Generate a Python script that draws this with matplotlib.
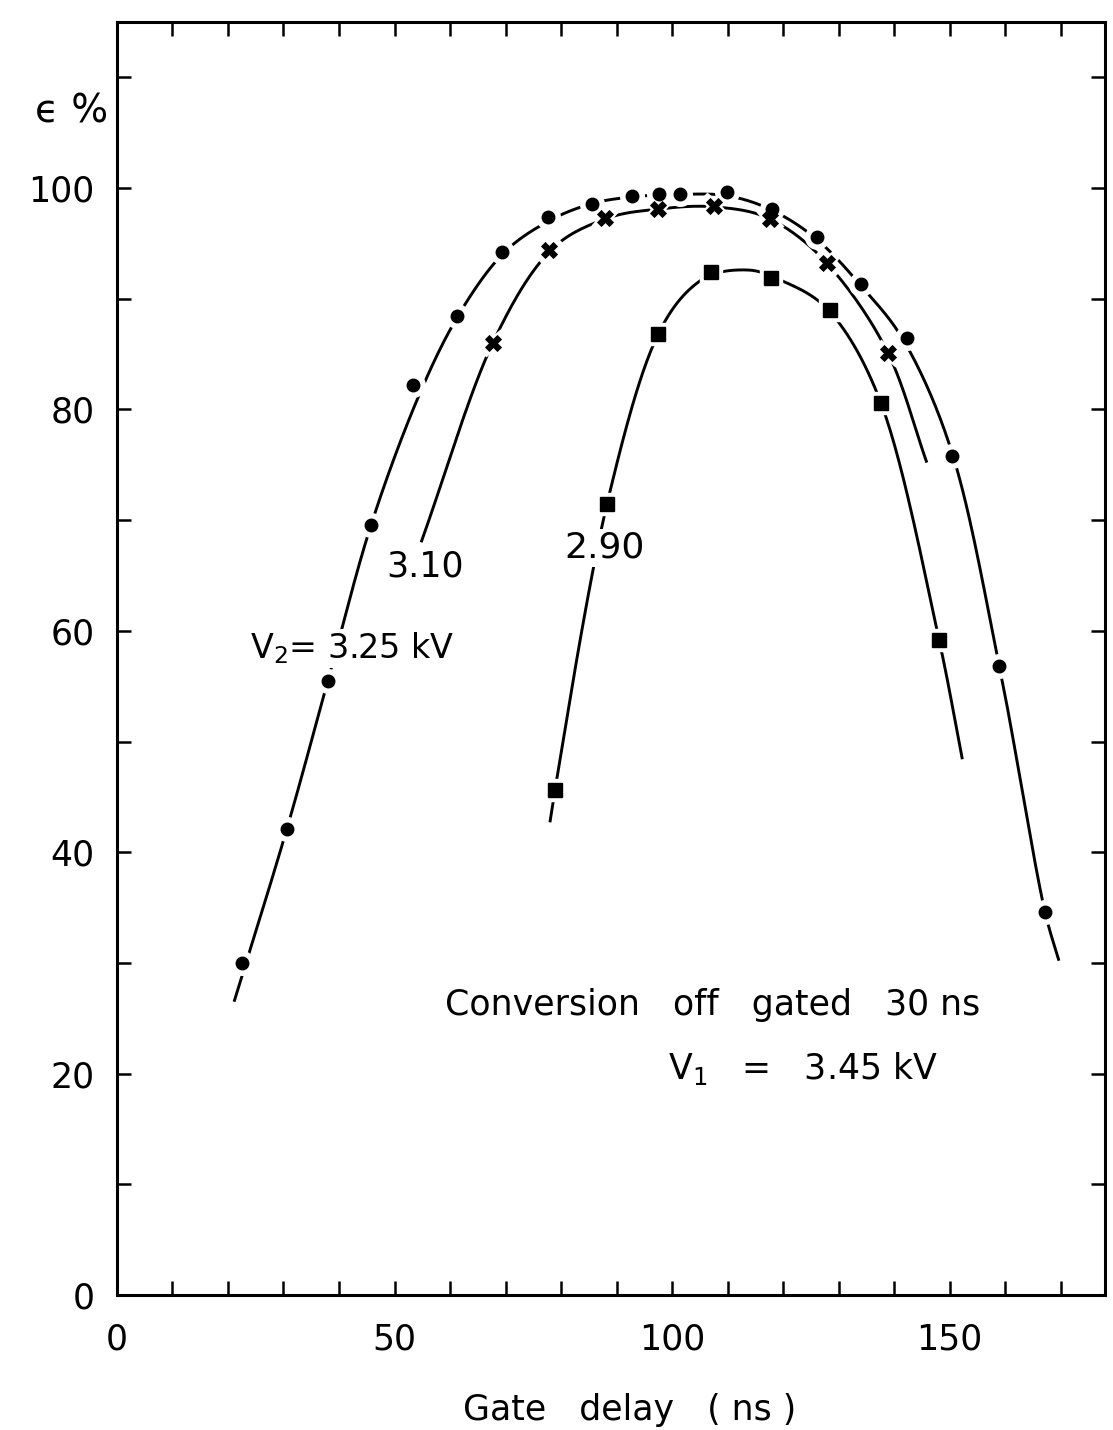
import numpy as np
import matplotlib
matplotlib.use("Agg")
import matplotlib.pyplot as plt

# Measured efficiency (%) versus gate delay (ns) for three V2 settings
delay_325 = [22.5, 30.6, 38.0, 45.8, 53.3, 61.3, 69.4, 77.7, 85.6, 92.8,
             97.7, 101.4, 109.9, 118.0, 126.1, 134.1, 142.3, 150.5, 158.9, 167.2]
eff_325 = [30.0, 42.1, 55.5, 69.6, 82.2, 88.4, 94.2, 97.4, 98.6, 99.3,
           99.5, 99.5, 99.6, 98.1, 95.6, 91.3, 86.5, 75.8, 56.8, 34.6]

delay_310 = [67.7, 77.8, 87.9, 97.5, 107.6, 117.7, 127.9, 138.9]
eff_310 = [86.0, 94.4, 97.3, 98.1, 98.4, 97.2, 93.2, 85.1]

delay_290 = [78.9, 88.3, 97.5, 107.0, 117.8, 128.5, 137.7, 148.1]
eff_290 = [45.6, 71.5, 86.8, 92.4, 91.9, 89.0, 80.6, 59.2]

# Hand-drawn guide curves (knots along each fitted line)
curve_325_x = [21.1, 30.6, 38.0, 45.8, 54.6, 61.5, 69.4, 77.7, 85.6, 92.8,
               100.0, 110.0, 118.0, 126.0, 134.0, 142.0, 150.5, 158.9, 167.2, 169.7]
curve_325_y = [26.5, 42.1, 55.5, 69.6, 81.5, 88.5, 94.0, 97.0, 98.6, 99.2,
               99.4, 99.3, 98.0, 95.4, 91.2, 86.0, 76.0, 57.0, 34.6, 30.2]

curve_310_x = [54.8, 67.7, 77.8, 87.9, 97.5, 107.6, 117.7, 127.9, 138.9, 145.9]
curve_310_y = [68.0, 86.0, 94.2, 97.2, 98.1, 98.3, 97.2, 93.2, 85.1, 75.2]

curve_290_x = [78.0, 78.9, 88.3, 97.5, 105.0, 113.5, 119.0, 128.5, 137.7, 148.1, 152.3]
curve_290_y = [42.7, 45.6, 71.5, 86.8, 91.6, 92.6, 91.8, 88.8, 80.5, 59.2, 48.4]

x_ticks = list(range(0, 180, 10))
x_labels = {0: "0", 50: "50", 100: "100", 150: "150"}
y_ticks = list(range(0, 120, 10))
y_labels = {0: "0", 20: "20", 40: "40", 60: "60", 80: "80", 100: "100"}


def catmull_rom(xs, ys, n=30, alpha=0.5):
    """Centripetal Catmull-Rom spline through the given knots."""
    p = np.column_stack([xs, ys]).astype(float)
    p = np.vstack([2 * p[0] - p[1], p, 2 * p[-1] - p[-2]])
    out = []
    for i in range(1, len(p) - 2):
        p0, p1, p2, p3 = p[i - 1], p[i], p[i + 1], p[i + 2]
        t0 = 0.0
        t1 = t0 + np.linalg.norm(p1 - p0) ** alpha
        t2 = t1 + np.linalg.norm(p2 - p1) ** alpha
        t3 = t2 + np.linalg.norm(p3 - p2) ** alpha
        t = np.linspace(t1, t2, n)[:, None]
        a1 = (t1 - t) / (t1 - t0) * p0 + (t - t0) / (t1 - t0) * p1
        a2 = (t2 - t) / (t2 - t1) * p1 + (t - t1) / (t2 - t1) * p2
        a3 = (t3 - t) / (t3 - t2) * p2 + (t - t2) / (t3 - t2) * p3
        b1 = (t2 - t) / (t2 - t0) * a1 + (t - t0) / (t2 - t0) * a2
        b2 = (t3 - t) / (t3 - t1) * a2 + (t - t1) / (t3 - t1) * a3
        c = (t2 - t) / (t2 - t1) * b1 + (t - t1) / (t2 - t1) * b2
        out.append(c if i == len(p) - 3 else c[:-1])
    c = np.vstack(out)
    return c[:, 0], c[:, 1]


plt.rcParams["font.family"] = ["DejaVu Sans"]

fig = plt.figure(figsize=(11.13, 14.30), dpi=100)
ax = fig.add_axes([0.1051, 0.0944, 0.8877, 0.8902])
ax.set_xlim(0, 178)
ax.set_ylim(0, 115)

line_kw = dict(color="black", lw=2.1, solid_capstyle="butt", zorder=2)
for cx, cy in [(curve_325_x, curve_325_y), (curve_310_x, curve_310_y),
               (curve_290_x, curve_290_y)]:
    sx, sy = catmull_rom(cx, cy)
    ax.plot(sx, sy, **line_kw)

# white halos leave small breaks in the lines around each point
for xs, ys, m, ms in [(delay_325, eff_325, "o", 17), (delay_310, eff_310, "X", 19),
                      (delay_290, eff_290, "s", 16)]:
    ax.plot(xs, ys, ls="none", marker=m, ms=ms, mfc="white", mec="white", zorder=3)

ax.plot(delay_325, eff_325, ls="none", marker="o", ms=9, mfc="black", mec="black", zorder=4)
ax.plot(delay_310, eff_310, ls="none", marker="X", ms=12, mfc="black", mec="black",
        mew=0.6, zorder=4)
ax.plot(delay_290, eff_290, ls="none", marker="s", ms=10, mfc="black", mec="black", zorder=4)

# frame and ticks
for s in ax.spines.values():
    s.set_linewidth(2.2)
ax.set_xticks(x_ticks)
ax.set_xticklabels([x_labels.get(v, "") for v in x_ticks])
ax.set_yticks(y_ticks)
ax.set_yticklabels([y_labels.get(v, "") for v in y_ticks])
ax.tick_params(axis="both", direction="in", length=10, width=1.8,
               top=True, right=True, labelsize=25)
ax.tick_params(axis="x", pad=20)
ax.tick_params(axis="y", pad=16)

label_box = dict(facecolor="white", edgecolor="none", pad=1.5)
ax.text(24.0, 58.4, r"V$_2$= 3.25 kV", fontsize=24, va="center", ha="left",
        bbox=label_box, zorder=5)
ax.text(55.5, 65.8, "3.10", fontsize=25, va="center", ha="center", zorder=5)
ax.text(87.9, 67.5, "2.90", fontsize=26, va="center", ha="center",
        bbox=label_box, zorder=5)
ax.text(59.1, 26.2, "Conversion   off   gated   30 ns", fontsize=25, va="center",
        ha="left", zorder=5)
ax.text(99.3, 20.5, r"V$_1$   =   3.45 kV", fontsize=25, va="center", ha="left", zorder=5)
ax.text(-14.8, 106.9, "ϵ %", fontsize=28, va="center", ha="left", clip_on=False)

fig.text(630 / 1113, 1 - 1410 / 1430, "Gate   delay   ( ns )", fontsize=25,
         ha="center", va="center")

fig.savefig("out.png", dpi=100, facecolor="white")
